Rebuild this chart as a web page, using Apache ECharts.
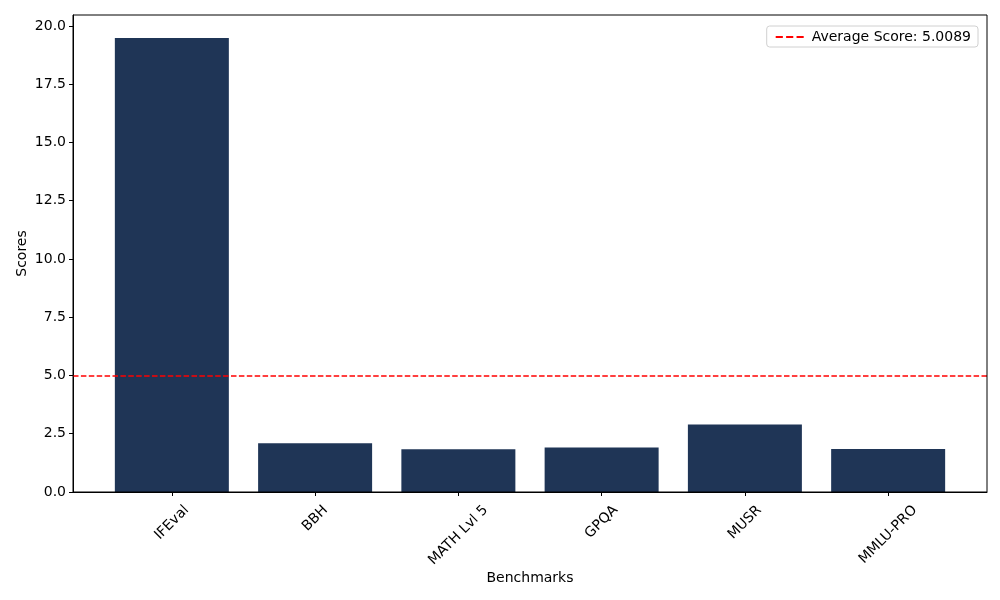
<!DOCTYPE html>
<html>
<head>
<meta charset="utf-8">
<script src="https://cdn.jsdelivr.net/npm/echarts@6/dist/echarts.min.js"></script>
<style>
  html, body { margin: 0; padding: 0; background: #fff; }
  #chart { width: 1000px; height: 600px; }
</style>
</head>
<body>
<div id="chart"></div>
<script>
// values
var benchmarks = ['IFEval', 'BBH', 'MATH Lvl 5', 'GPQA', 'MUSR', 'MMLU-PRO']
var scores = [19.48, 2.09, 1.83, 1.91, 2.90, 1.84]
var averageScore = 5.0089
var yTicks = [0, 2.5, 5, 7.5, 10, 12.5, 15, 17.5, 20]

var font = 'DejaVu Sans'
var fontSize = 14
var barData = scores.map(function (v, i) { return [i, v] })
var positions = benchmarks.map(function (b, i) { return i })
var legendName = 'Average Score: ' + averageScore.toFixed(4)

// rotated tick labels are centred on the tick like matplotlib does (top of the box under the tick),
// so longer labels get pushed down a bit with padding
var ctx = document.createElement('canvas').getContext('2d')
ctx.font = fontSize + 'px "' + font + '"'
var labelRich = {}
benchmarks.forEach(function (b, i) {
    var w = ctx.measureText(b).width
    var shift = (w + fontSize) * 0.3535
    var pad = shift * 1.414
    labelRich['l' + i] = { padding: [pad, pad, 0, 0], fontSize: fontSize, fontFamily: font, color: '#000' }
})

var myChart = echarts.init(document.getElementById('chart'))
var option = {
    animation: false,
    textStyle: { fontFamily: font },
    grid: { left: 73, right: 13, top: 15, bottom: 108, containLabel: false },
    legend: {
        right: 22,
        top: 26,
        data: [{
            name: legendName,
            icon: 'path://M0,0 L11,0 L11,3 L0,3 Z M16,0 L27,0 L27,3 L16,3 Z M32,0 L43,0 L43,3 L32,3 Z',
        }],
        itemWidth: 28,
        itemHeight: 2,
        itemGap: 8,
        padding: [4, 7, 3, 9],
        borderColor: '#d0d0d0',
        borderWidth: 1,
        borderRadius: 3,
        backgroundColor: '#ffffff',
        textStyle: { fontFamily: font, fontSize: fontSize, color: '#000', padding: [0, 0, 0, 3] },
    },
    xAxis: {
        type: 'value',
        min: -0.69,
        max: 5.69,
        name: 'Benchmarks',
        nameLocation: 'middle',
        nameGap: 79,
        nameMoveOverlap: false,
        nameTextStyle: { fontFamily: font, fontSize: fontSize, color: '#000' },
        splitLine: { show: false },
        axisLine: { show: true, onZero: false, lineStyle: { color: '#000', width: 1 } },
        axisTick: { show: true, customValues: positions, length: 4, lineStyle: { color: '#000' } },
        axisLabel: {
            customValues: positions,
            rotate: 45,
            align: 'center',
            verticalAlign: 'middle',
            margin: 11,
            fontSize: fontSize,
            color: '#000',
            rich: labelRich,
            formatter: function (v) {
                var i = Math.round(v)
                return '{l' + i + '|' + benchmarks[i] + '}'
            },
        },
    },
    yAxis: {
        type: 'value',
        min: 0,
        max: 20.47,
        name: 'Scores',
        nameLocation: 'middle',
        nameGap: 44,
        nameMoveOverlap: false,
        nameTextStyle: { fontFamily: font, fontSize: fontSize, color: '#000' },
        splitLine: { show: false },
        axisLine: { show: true, onZero: false, lineStyle: { color: '#000', width: 1 } },
        axisTick: { show: true, customValues: yTicks, length: 4, lineStyle: { color: '#000' } },
        axisLabel: {
            customValues: yTicks,
            fontSize: fontSize,
            color: '#000',
            margin: 7,
            formatter: function (v) { return v.toFixed(1) },
        },
    },
    series: [
        {
            name: 'scores',
            type: 'bar',
            data: barData,
            barWidth: 114,
            itemStyle: { color: '#1f3556' },
        },
        {
            name: legendName,
            type: 'line',
            data: [],
            symbol: 'none',
            lineStyle: { color: '#ff0000', type: [5.5, 2.4], width: 1.5 },
            itemStyle: { color: '#ff0000' },
            markLine: {
                silent: true,
                symbol: 'none',
                label: { show: false },
                lineStyle: { color: '#ff0000', type: [5.5, 2.4], width: 1.5 },
                data: [{ yAxis: averageScore }],
            },
        },
    ],
    graphic: [
        // top and right spines of the frame
        {
            type: 'rect',
            shape: { x: 73, y: 15, width: 914, height: 477 },
            style: { fill: 'none', stroke: '#000', lineWidth: 1 },
            silent: true,
            z: 10,
        },
    ],
}
myChart.setOption(option)
</script>
</body>
</html>
